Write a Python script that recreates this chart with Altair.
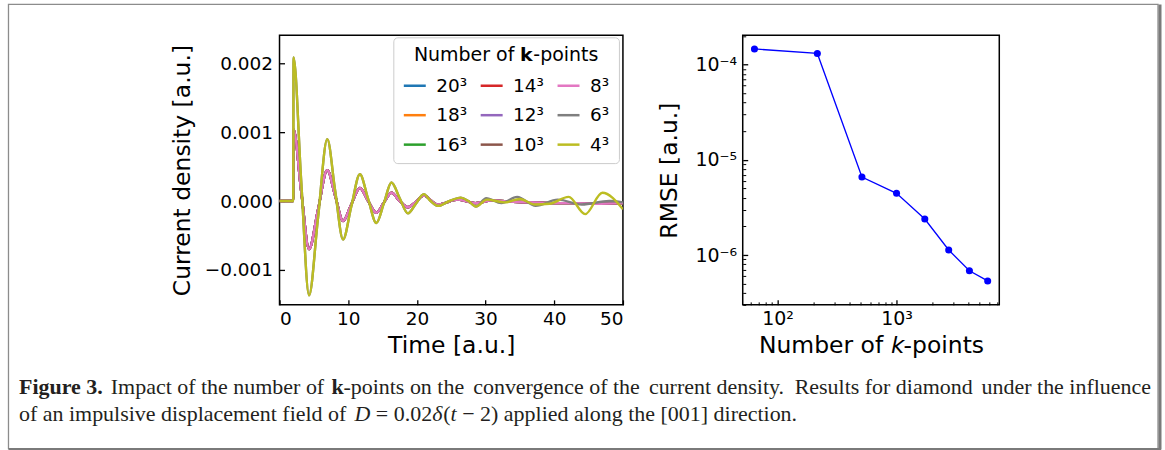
import altair as alt
import pandas as pd

# ---------------- current density traces ----------------
grid_labels = ["20³", "18³", "16³", "14³", "12³", "10³", "8³", "6³", "4³"]
grid_colors = ["#1f77b4", "#ff7f0e", "#2ca02c", "#d62728", "#9467bd",
               "#8c564b", "#e377c2", "#7f7f7f", "#bcbd22"]

# dense k-grids (8^3 and finer) lie on top of each other
t_dense = [0, 2.0, 2.04, 3.15, 4.3, 5.6, 6.95, 8.1, 9.25, 10.45, 11.7, 12.9,
           14.1, 15.2, 16.3, 17.5, 18.7, 19.85, 21.0, 23.0, 26.0, 28.5, 31.0,
           34.0, 37.0, 40.0, 43.0, 46.0, 50.0]
j_dense = [0, 0, 0.00104, 0.00015, -0.0007, -0.00013, 0.00045, 0.00008,
           -0.00029, -0.00005, 0.00019, 0.0, -0.00017, -0.00002, 0.00012, 0.0,
           -0.00009, -0.00001, 0.00008, -0.00005, 0.00002, -0.00003, 0.00001,
           -0.00001, -0.00002, -0.00003, -0.00003, -0.00004, -0.00003]

# 6^3 grid
t_6 = [0, 2.0, 2.04, 3.15, 4.3, 5.6, 6.95, 8.1, 9.25, 10.45, 11.7, 12.9, 14.1,
       15.2, 16.3, 17.5, 18.7, 19.85, 21.0, 22.0, 23.1, 24.7, 26.4, 27.5, 28.6,
       30.1, 32.3, 34.6, 37.3, 40.5, 44.0, 48.0, 50.0]
j_6 = [0, 0, 0.00209, 0.0003, -0.00137, -0.00025, 0.0009, 0.00015, -0.00056,
       -0.00008, 0.00039, 0.00003, -0.00032, -0.00003, 0.00027, 0.00004,
       -0.00018, -0.00004, 0.0001, 0.0, -0.00007, 0.0, 0.00005, 0.0, -0.00008,
       0.00004, -0.00003, 0.00006, -0.00007, 0.00002, -0.00005, 0.0, -0.00002]

# 4^3 grid
t_4 = [0, 2.0, 2.04, 3.15, 4.3, 5.6, 6.95, 8.1, 9.25, 10.45, 11.7, 12.9, 14.1,
       15.2, 16.3, 17.5, 18.7, 19.85, 21.0, 22.0, 23.1, 24.7, 26.4, 27.5, 28.6,
       30.2, 32.8, 35.0, 37.2, 39.3, 42.1, 44.5, 47.0, 50.0]
j_4 = [0, 0, 0.00209, 0.0003, -0.00137, -0.00025, 0.0009, 0.00015, -0.00056,
       -0.00008, 0.00039, 0.00003, -0.00032, -0.00003, 0.00027, 0.00004,
       -0.00018, -0.00004, 0.0001, 0.0, -0.00007, 0.0, 0.00005, 0.0, -0.00008,
       0.00002, -0.00002, 0.00003, -0.00005, -0.00004, 0.00006, -0.00019,
       0.00012, -0.00012]

# ---------------- RMSE convergence ----------------
n_kpoints = [64, 216, 512, 1000, 1728, 2744, 4096, 5832]
rmse = [1.46e-4, 1.31e-4, 6.6e-6, 4.45e-6, 2.39e-6, 1.13e-6, 6.85e-7, 5.35e-7]

series = {
    "20³": (t_dense, j_dense), "18³": (t_dense, j_dense), "16³": (t_dense, j_dense),
    "14³": (t_dense, j_dense), "12³": (t_dense, j_dense), "10³": (t_dense, j_dense),
    "8³": (t_dense, j_dense), "6³": (t_6, j_6), "4³": (t_4, j_4),
}
rows = []
for lab in grid_labels:
    ts, js = series[lab]
    for t, j in zip(ts, js):
        rows.append({"t": t, "j": j, "grid": lab})
ts_df = pd.DataFrame(rows)
rmse_df = pd.DataFrame({"n": n_kpoints, "rmse": rmse})

FONT = "DejaVu Sans"
LW, LH = 344, 270      # left panel plot area
RW, RH = 257, 270      # right panel plot area
X0, Y0 = 278, 33       # page position of the left plot area

color_scale = alt.Scale(domain=grid_labels, range=grid_colors)
x_scale = alt.Scale(domain=[0, 50], nice=False, zero=False)
y_scale = alt.Scale(domain=[-0.00151, 0.00241], nice=False, zero=False)

label_axis_x = alt.Axis(values=[0, 10, 20, 30, 40, 50], ticks=False, domain=False, grid=False,
                        labelFont=FONT, labelFontSize=18.5, labelColor="black", labelPadding=5,
                        title="Time [a.u.]", titleFont=FONT, titleFontSize=23.5,
                        titleFontWeight="normal", titleColor="black", titlePadding=5)
label_axis_y = alt.Axis(values=[-0.001, 0, 0.001, 0.002], format=".3f", ticks=False,
                        domain=False, grid=False, labelFont=FONT, labelFontSize=18.5,
                        labelColor="black", labelPadding=7,
                        title="Current density [a.u.]", titleFont=FONT, titleFontSize=23.5,
                        titleFontWeight="normal", titleColor="black", titlePadding=10)
# inward ticks: axes on the opposite side pulled back onto the frame
tick_axis_x = alt.Axis(orient="top", offset=-LH, values=[0, 10, 20, 30, 40, 50],
                       labels=False, domain=False, grid=False, tickSize=5, tickWidth=1.3,
                       tickColor="black", title="")
tick_axis_y = alt.Axis(orient="right", offset=-LW, values=[-0.001, 0, 0.001, 0.002],
                       labels=False, domain=False, grid=False, tickSize=5, tickWidth=1.3,
                       tickColor="black", title="")

legend = alt.Legend(orient="none", legendX=114, legendY=2, columns=3,
                    title="Number of 𝗸-points", titleLimit=400, titleFont=FONT,
                    titleFontSize=19, titleFontWeight="normal", titleColor="black",
                    titleAnchor="middle", titlePadding=8, labelFont=FONT, labelFontSize=18.5,
                    labelColor="black", labelOffset=9, symbolType="stroke", symbolSize=484,
                    symbolStrokeWidth=2.5, columnPadding=8, rowPadding=7.5, fillColor="white",
                    strokeColor="#cccccc", cornerRadius=4, padding=9)

layers = []
for i, lab in enumerate(grid_labels):
    if i == 0:
        xa, ya = label_axis_x, label_axis_y
    elif i == 1:
        xa, ya = tick_axis_x, tick_axis_y
    else:
        xa = ya = None
    enc = dict(
        x=alt.X("t:Q", scale=x_scale, axis=xa),
        y=alt.Y("j:Q", scale=y_scale, axis=ya),
        color=alt.Color("grid:N", scale=color_scale, legend=legend if i == 0 else None),
    )
    layers.append(
        alt.Chart(ts_df).transform_filter(alt.datum.grid == lab)
        .mark_line(strokeWidth=2.4, interpolate="monotone", clip=True)
        .encode(**enc)
    )

# ---------------- caption and figure frame ----------------
cap_df = pd.DataFrame({"v": [0]})
SERIF = "Liberation Serif"
CS = 22


def cap(text, x, y, weight="normal", style="normal", align="left"):
    return alt.Chart(cap_df).mark_text(
        text=text, align=align, baseline="alphabetic", font=SERIF, fontSize=CS,
        fontWeight=weight, fontStyle=style, color="#231f20"
    ).encode(x=alt.value(x - X0), y=alt.value(y - Y0))


L1, L2 = 392, 419
caption_layers = [
    # first line, spread to the full width
    cap("Figure 3.", 17, L1, weight="bold"),
    cap("Impact of the number of", 109, L1),
    cap("k", 330, L1, weight="bold"),
    cap("-points on the", 342, L1),
    cap("convergence of the", 472, L1),
    cap("current density.", 648, L1),
    cap("Results for diamond", 794, L1),
    cap("under the influence", 1151, L1, align="right"),
    # second line
    cap("of an impulsive displacement field of", 17, L2),
    cap("D", 353, L2, style="italic"),
    cap("= 0.02", 374.5, L2),
    cap("δ", 431, L2, style="italic"),
    cap("(", 442, L2),
    cap("t", 449.3, L2, style="italic"),
    cap("− 2) applied along the [001] direction.", 461, L2),
]
frame = alt.Chart(cap_df).mark_rect(fillOpacity=0, stroke="#8c8c8c", strokeWidth=1.3).encode(
    x=alt.value(6.5 - X0), x2=alt.value(1158 - X0), y=alt.value(2 - Y0), y2=alt.value(447 - Y0))
edge_r = alt.Chart(cap_df).mark_rule(stroke="#7a7a7a", strokeWidth=3).encode(
    x=alt.value(1160 - X0), y=alt.value(2 - Y0), y2=alt.value(448 - Y0))
edge_b = alt.Chart(cap_df).mark_rule(stroke="#7a7a7a", strokeWidth=2).encode(
    x=alt.value(6.5 - X0), x2=alt.value(1161 - X0), y=alt.value(447.5 - Y0))

left = alt.layer(*layers, frame, edge_r, edge_b, *caption_layers) \
    .resolve_axis(x="independent", y="independent").properties(width=LW, height=LH)

# ---------------- right panel ----------------
xr = alt.Scale(type="log", domain=[51, 7300], nice=False)
yr = alt.Scale(type="log", domain=[3.0e-7, 2.03e-4], nice=False)
sup = "['⁰','¹','²','³','⁴','⁵','⁶','⁷','⁸','⁹'][abs(round(log(datum.value) / LN10))]"
pow_label = "'10' + (datum.value < 1 ? '⁻' : '') + " + sup

x_major = [100, 1000]
x_minor = [60, 70, 80, 90, 200, 300, 400, 500, 600, 700, 800, 900,
           2000, 3000, 4000, 5000, 6000, 7000]
y_major = [1e-6, 1e-5, 1e-4]
y_minor = [3e-7, 4e-7, 5e-7, 6e-7, 7e-7, 8e-7, 9e-7,
           2e-6, 3e-6, 4e-6, 5e-6, 6e-6, 7e-6, 8e-6, 9e-6,
           2e-5, 3e-5, 4e-5, 5e-5, 6e-5, 7e-5, 8e-5, 9e-5, 2e-4]

r_lab_x = alt.Axis(values=x_major, labelExpr=pow_label, ticks=False, domain=False, grid=False,
                   labelFont=FONT, labelFontSize=19, labelColor="black", labelPadding=5,
                   title="Number of 𝘬-points", titleFont=FONT, titleFontSize=23.5,
                   titleFontWeight="normal", titleColor="black", titlePadding=5)
r_lab_y = alt.Axis(values=y_major, labelExpr=pow_label, ticks=False, domain=False, grid=False,
                   labelFont=FONT, labelFontSize=19, labelColor="black", labelPadding=6,
                   title="RMSE [a.u.]", titleFont=FONT, titleFontSize=23.5,
                   titleFontWeight="normal", titleColor="black", titlePadding=14)
r_maj_x = alt.Axis(orient="top", offset=-RH, values=x_major, labels=False, domain=False,
                   grid=False, tickSize=5, tickWidth=1.3, tickColor="black", title="")
r_maj_y = alt.Axis(orient="right", offset=-RW, values=y_major, labels=False, domain=False,
                   grid=False, tickSize=5, tickWidth=1.3, tickColor="black", title="")
r_min_x = alt.Axis(orient="top", offset=-RH, values=x_minor, labels=False, domain=False,
                   grid=False, tickSize=3, tickWidth=1, tickColor="black", title="")
r_min_y = alt.Axis(orient="right", offset=-RW, values=y_minor, labels=False, domain=False,
                   grid=False, tickSize=3, tickWidth=1, tickColor="black", title="")

r_line = alt.Chart(rmse_df).mark_line(color="#0000ff", strokeWidth=1.3).encode(
    x=alt.X("n:Q", scale=xr, axis=r_lab_x), y=alt.Y("rmse:Q", scale=yr, axis=r_lab_y))
r_pts = alt.Chart(rmse_df).mark_point(filled=True, color="#0000ff", opacity=1, size=50).encode(
    x=alt.X("n:Q", scale=xr, axis=r_maj_x), y=alt.Y("rmse:Q", scale=yr, axis=r_maj_y))
r_minor = alt.Chart(rmse_df).mark_line(strokeOpacity=0).encode(
    x=alt.X("n:Q", scale=xr, axis=r_min_x), y=alt.Y("rmse:Q", scale=yr, axis=r_min_y))
right = alt.layer(r_line, r_pts, r_minor).resolve_axis(x="independent", y="independent") \
    .properties(width=RW, height=RH)

chart = alt.hconcat(left, right, spacing=120, bounds="flush").properties(
    padding={"left": 6, "top": 1, "right": 2, "bottom": 0}, background="white"
).configure_view(stroke="black", strokeWidth=1.5)

chart.save("out.html", embed_options={"renderer": "svg", "actions": False})
